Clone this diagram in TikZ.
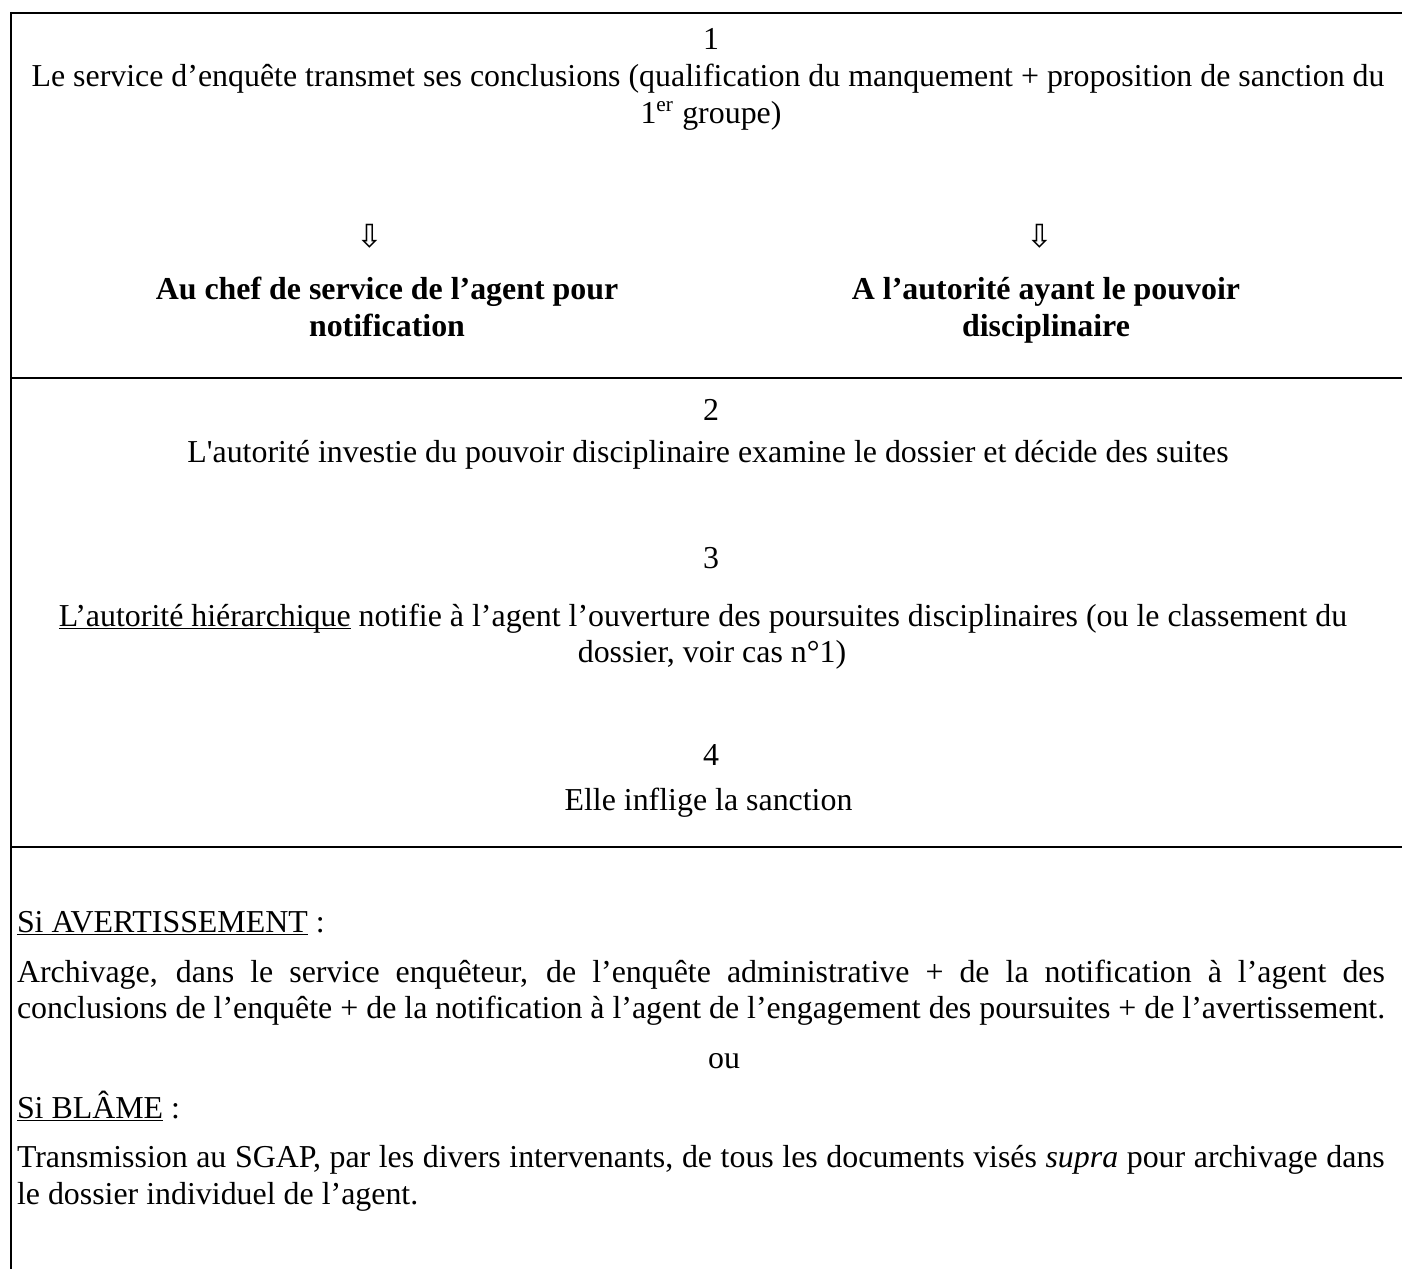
\documentclass[tikz,border=0pt]{standalone}
\usepackage{fontspec}
\setmainfont{Liberation Serif}[Ligatures=TeXOff]
\newfontfamily\arrowfont{DejaVu Sans}
\newsavebox\ulbox
\newcommand\myul[1]{\sbox\ulbox{#1}\rlap{\rule[-1.3pt]{\wd\ulbox}{0.6pt}}\usebox\ulbox}
\begin{document}
\begin{tikzpicture}[x=0.3762pt,y=-0.3762pt,
  every node/.style={inner sep=0pt,outer sep=0pt,font=\fontsize{12}{13.8}\selectfont},
  txt/.style={anchor=base},
  lft/.style={anchor=base west},
  bld/.style={anchor=base,font=\fontsize{12}{13.8}\selectfont\bfseries},
  arr/.style={anchor=center,font=\arrowfont\fontsize{12}{14}\selectfont},
  border/.style={line width=0.8pt}]
\useasboundingbox[fill=white] (0,0) rectangle (1402,1269);
% borders
\draw[border] (10,12.7) -- (1402,12.7);
\draw[border] (11,12) -- (11,1269);
\draw[border] (10,377.7) -- (1402,377.7);
\draw[border] (10,847) -- (1402,847);
% cell 1
\node[txt] (n1) at (711,50) {1};
\node[txt] (t1a) at (708,87) {Le service d’enquête transmet ses conclusions (qualification du manquement + proposition de sanction du};
\node[txt] (t1b) at (711,123.5) {1\textsuperscript{er} groupe)};
\node[arr] (a1) at (370,236) {⇩};
\node[arr] (a2) at (1040,236) {⇩};
\node[bld] (b1a) at (387,300) {Au chef de service de l’agent pour};
\node[bld] (b1b) at (387,336.7) {notification};
\node[bld] (b2a) at (1046,300) {A l’autorité ayant le pouvoir};
\node[bld] (b2b) at (1046,336.7) {disciplinaire};
% cell 2
\node[txt] (n2) at (711,420) {2};
\node[txt] (t2) at (708,462) {L'autorité investie du pouvoir disciplinaire examine le dossier et décide des suites};
\node[txt] (n3) at (711,568) {3};
\node[txt] (t3a) at (703,626) {\myul{L’autorité hiérarchique} notifie à l’agent l’ouverture des poursuites disciplinaires (ou le classement du};
\node[txt] (t3b) at (712,662.7) {dossier, voir cas n°1)};
\node[txt] (n4) at (711,765) {4};
\node[txt] (t4) at (708.5,810) {Elle inflige la sanction};
% cell 3
\node[lft] (s1) at (17,932) {\myul{Si AVERTISSEMENT} :};
\node[lft] (p1a) at (17,982) {\makebox[514.6pt][s]{Archivage, dans le service enquêteur, de l’enquête administrative + de la notification à l’agent des}};
\node[lft] (p1b) at (17,1018.7) {conclusions de l’enquête + de la notification à l’agent de l’engagement des poursuites + de l’avertissement.};
\node[txt] (ou) at (724,1068) {ou};
\node[lft] (s2) at (17,1118) {\myul{Si BLÂME} :};
\node[lft] (p2a) at (17,1167.5) {\makebox[514.6pt][s]{Transmission au SGAP, par les divers intervenants, de tous les documents visés \textit{supra} pour archivage dans}};
\node[lft] (p2b) at (17,1204) {le dossier individuel de l’agent.};
\end{tikzpicture}
\end{document}
